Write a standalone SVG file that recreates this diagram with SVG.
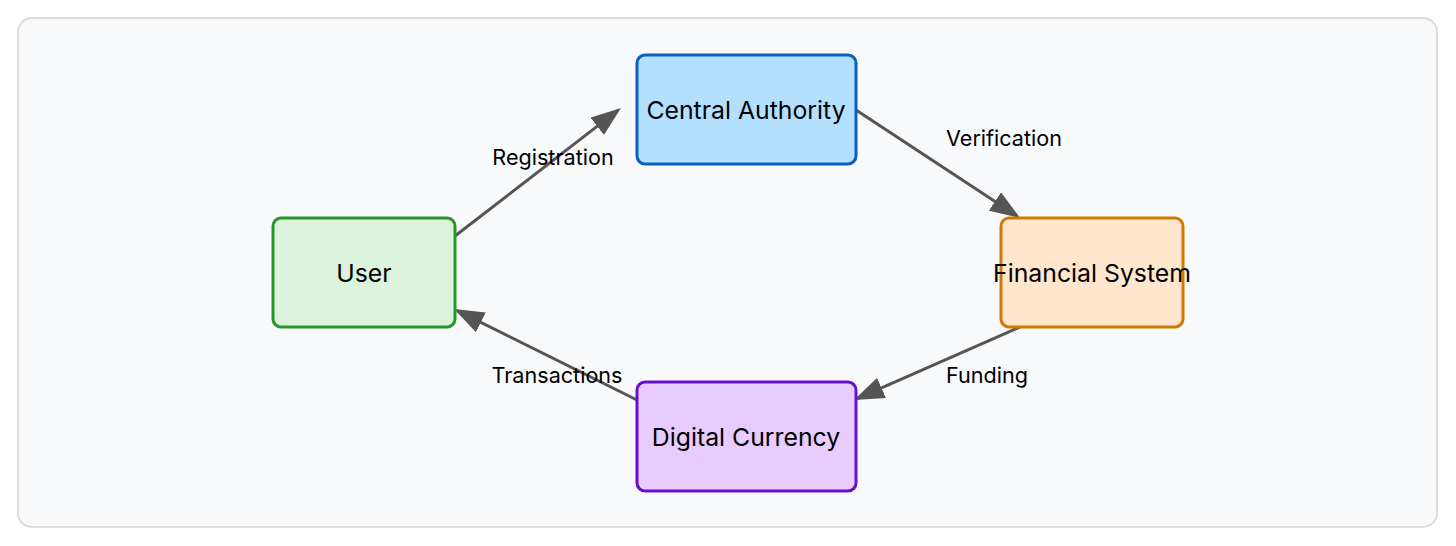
<svg xmlns="http://www.w3.org/2000/svg" width="1456" height="546" viewBox="0 0 1456 546">
<style>
.node rect{stroke-width:3}
.nt{font-family:Inter,"Liberation Sans",sans-serif;font-size:24.8px;fill:#000;text-anchor:middle}
.lt{font-family:Inter,"Liberation Sans",sans-serif;font-size:21.6px;fill:#000;text-anchor:middle}
.edge{stroke:#555;stroke-width:3;fill:none;marker-end:url(#arr)}
</style>
<defs>
<marker id="arr" viewBox="0 0 30 22" refX="26" refY="11" markerWidth="30" markerHeight="22" markerUnits="userSpaceOnUse" orient="auto">
<path d="M0,0 L30,11 L0,22 Z" fill="#555"/>
</marker>
</defs>
<rect x="18" y="18" width="1419" height="509" rx="14" fill="#f8f9fb" stroke="#dcdcdc" stroke-width="2"/>
<g id="connectors">
<line class="edge" x1="455" y1="236" x2="617.8" y2="110.4"/>
<line class="edge" x1="856" y1="110" x2="1016.7" y2="215.8"/>
<line class="edge" x1="1020" y1="327" x2="857.7" y2="398.4"/>
<line class="edge" x1="637" y1="400" x2="457.6" y2="310.8"/>
<text class="lt" x="553" y="164.5">Registration</text>
<text class="lt" x="1004" y="145.5">Verification</text>
<text class="lt" x="987" y="382.5">Funding</text>
<text class="lt" x="557" y="382.5">Transactions</text>
</g>
<g id="user" class="node">
<rect x="273" y="218" width="182" height="109" rx="8" fill="#dcf3dc" stroke="#2a962a"/>
<text class="nt" x="364" y="281.5">User</text>
</g>
<g id="central-authority" class="node">
<rect x="637" y="55" width="219" height="109" rx="8" fill="#b3e0ff" stroke="#0a5fc5"/>
<text class="nt" x="746" y="118.5">Central Authority</text>
</g>
<g id="financial-system" class="node">
<rect x="1001" y="218" width="182" height="109" rx="8" fill="#ffe6cc" stroke="#d07a00"/>
<text class="nt" x="1092" y="281.5">Financial System</text>
</g>
<g id="digital-currency" class="node">
<rect x="637" y="382" width="219" height="109" rx="8" fill="#e8ccff" stroke="#6a0fcc"/>
<text class="nt" x="746" y="445.5">Digital Currency</text>
</g>
</svg>
